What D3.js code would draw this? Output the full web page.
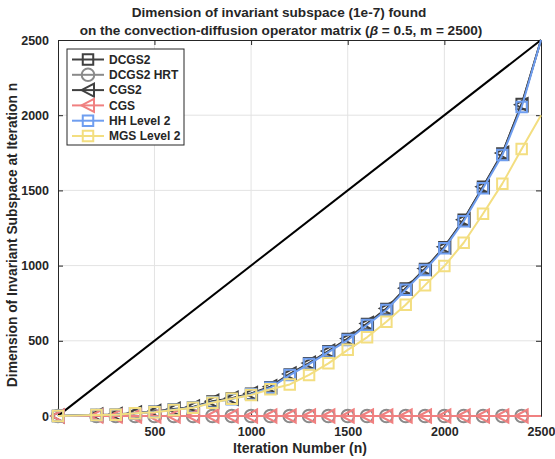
<!DOCTYPE html>
<html>
<head>
<meta charset="utf-8">
<script src="https://cdn.jsdelivr.net/npm/d3@7/dist/d3.min.js"></script>
<style>
  body { margin: 0; background: #fff; }
  text { font-family: "Liberation Sans", Arial, Helvetica, sans-serif; font-weight: bold; fill: #262626; }
</style>
</head>
<body>
<svg id="chart" width="555" height="459"></svg>
<script>
// Iteration counts at which the subspace dimension was sampled
const iterations = [1, 200, 300, 400, 500, 600, 700, 800, 900, 1000, 1100, 1200, 1300,
  1400, 1500, 1600, 1700, 1800, 1900, 2000, 2100, 2200, 2300, 2400, 2500];

// Dimension of the invariant subspace found at each sampled iteration
const dcgs2    = [0, 6, 9, 18, 28, 44, 58, 96, 116, 148, 192, 276, 350, 430, 512, 612, 712, 848, 978, 1122, 1305, 1525, 1745, 2075, 2500];
const dcgs2Hrt = [0, 0, 0, 0, 0, 0, 0, 0, 0, 0, 0, 0, 0, 0, 0, 0, 0, 0, 0, 0, 0, 0, 0, 0, 0];
const cgs2     = [0, 7, 10, 20, 30, 46, 60, 98, 118, 150, 195, 280, 352, 432, 515, 615, 715, 850, 980, 1125, 1305, 1525, 1748, 2070, 2500];
const cgs      = [0, 0, 0, 0, 0, 0, 0, 0, 0, 0, 0, 0, 0, 0, 0, 0, 0, 0, 0, 0, 0, 0, 0, 0, 0];
const hhLevel2 = [0, 6, 9, 18, 27, 42, 56, 92, 112, 145, 188, 272, 345, 425, 505, 605, 705, 840, 970, 1115, 1295, 1515, 1735, 2055, 2500];
const mgsLevel2 = [0, 7, 8, 18, 25, 40, 55, 88, 115, 140, 178, 210, 273, 350, 440, 523, 627, 740, 870, 997, 1152, 1345, 1545, 1775, 2000];

// Upper bound: dimension equal to the iteration number
const boundIterations = [1, 2500];
const boundDims = [1, 2500];

const seriesNames = ["DCGS2", "DCGS2 HRT", "CGS2", "CGS", "HH Level 2", "MGS Level 2"];
const xTicks = [500, 1000, 1500, 2000, 2500];
const yTicks = [0, 500, 1000, 1500, 2000, 2500];

const series = [
  { name: seriesNames[0], values: dcgs2,     color: "#404040", marker: "square" },
  { name: seriesNames[1], values: dcgs2Hrt,  color: "#8a8a8a", marker: "circle" },
  { name: seriesNames[2], values: cgs2,      color: "#404040", marker: "triangle" },
  { name: seriesNames[3], values: cgs,       color: "#f08080", marker: "triangle" },
  { name: seriesNames[4], values: hhLevel2,  color: "#6f9ef0", marker: "square" },
  { name: seriesNames[5], values: mgsLevel2, color: "#f3de80", marker: "square" }
];

const plot = { left: 58, right: 541, top: 40, bottom: 416 };
const svg = d3.select("#chart");
const axisColor = "#262626";
const fmt = d3.format("d");

const x = d3.scaleLinear().domain([1, 2500]).range([plot.left, plot.right]);
const y = d3.scaleLinear().domain([0, 2500]).range([plot.bottom, plot.top]);

// grid
const grid = svg.append("g");
grid.selectAll("line.gx").data(xTicks.filter(t => t < 2500)).join("line")
  .attr("x1", d => x(d)).attr("x2", d => x(d))
  .attr("y1", plot.top).attr("y2", plot.bottom)
  .attr("stroke", "#e3e3e3").attr("stroke-width", 1);
grid.selectAll("line.gy").data(yTicks.filter(t => t > 0 && t < 2500)).join("line")
  .attr("y1", d => y(d)).attr("y2", d => y(d))
  .attr("x1", plot.left).attr("x2", plot.right)
  .attr("stroke", "#e3e3e3").attr("stroke-width", 1);

// axes with inward ticks on all four sides
function styleAxis(g) {
  g.selectAll("path").attr("stroke", axisColor);
  g.selectAll("line").attr("stroke", axisColor);
  g.selectAll("text").attr("fill", axisColor).style("font-size", "12.5px").style("font-weight", "bold");
}
svg.append("g").attr("transform", `translate(0,${plot.bottom})`)
  .call(d3.axisBottom(x).tickValues(xTicks).tickFormat(fmt).tickSizeInner(-5).tickSizeOuter(0).tickPadding(11))
  .call(styleAxis);
svg.append("g").attr("transform", `translate(0,${plot.top})`)
  .call(d3.axisTop(x).tickValues(xTicks).tickSizeInner(-5).tickSizeOuter(0).tickFormat(""))
  .call(styleAxis);
svg.append("g").attr("transform", `translate(${plot.left},0)`)
  .call(d3.axisLeft(y).tickValues(yTicks).tickFormat(fmt).tickSizeInner(-5).tickSizeOuter(0).tickPadding(9))
  .call(styleAxis);
svg.append("g").attr("transform", `translate(${plot.right},0)`)
  .call(d3.axisRight(y).tickValues(yTicks).tickSizeInner(-5).tickSizeOuter(0).tickFormat(""))
  .call(styleAxis);

// upper bound line
const boundLine = d3.line().x(d => x(d[0])).y(d => y(d[1]));
svg.append("path")
  .attr("d", boundLine(boundIterations.map((n, i) => [n, boundDims[i]])))
  .attr("fill", "none").attr("stroke", "#000").attr("stroke-width", 2);

// marker shapes
const squareSym = d3.symbol().type(d3.symbolSquare).size(110);
const circleSym = d3.symbol().type(d3.symbolCircle).size(125);
function drawMarker(g, kind, color) {
  if (kind === "square") {
    g.append("path").attr("d", squareSym()).attr("fill", "none").attr("stroke", color).attr("stroke-width", 2);
  } else if (kind === "circle") {
    g.append("path").attr("d", circleSym()).attr("fill", "none").attr("stroke", color).attr("stroke-width", 2);
  } else {
    g.append("path").attr("d", "M-6.5,0L6,-6.5L6,6.5Z").attr("fill", "none").attr("stroke", color).attr("stroke-width", 2);
  }
}

const line = d3.line().x(d => x(d[0])).y(d => y(d[1]));
series.forEach(s => {
  const pts = iterations.map((n, i) => [n, s.values[i]]);
  const g = svg.append("g");
  g.append("path").attr("d", line(pts))
    .attr("fill", "none").attr("stroke", s.color).attr("stroke-width", 2).attr("stroke-linejoin", "round");
  pts.slice(0, -1).forEach(p => {
    const m = g.append("g").attr("transform", `translate(${x(p[0])},${y(p[1])})`);
    drawMarker(m, s.marker, s.color);
  });
});

// legend
const legend = svg.append("g");
legend.append("rect").attr("x", 67).attr("y", 49).attr("width", 117).attr("height", 96)
  .attr("fill", "#fff").attr("stroke", axisColor).attr("stroke-width", 1);
series.forEach((s, i) => {
  const ly = 59.5 + i * 15.3;
  legend.append("line").attr("x1", 72).attr("x2", 104).attr("y1", ly).attr("y2", ly)
    .attr("stroke", s.color).attr("stroke-width", 2);
  const m = legend.append("g").attr("transform", `translate(88,${ly})`);
  drawMarker(m, s.marker, s.color);
  legend.append("text").attr("x", 109).attr("y", ly + 4.3).style("font-size", "12px").text(s.name);
});

// title and axis labels
const title = svg.append("text").attr("text-anchor", "middle").style("font-size", "13.6px");
title.append("tspan").attr("x", 279).attr("y", 17).text("Dimension of invariant subspace (1e-7) found");
const t2 = title.append("tspan").attr("x", 281).attr("y", 35);
t2.append("tspan").text("on the convection-diffusion operator matrix (");
t2.append("tspan").style("font-style", "italic").text("β");
t2.append("tspan").text(" = 0.5, m = 2500)");

svg.append("text").attr("text-anchor", "middle").attr("x", 300).attr("y", 453)
  .style("font-size", "14px").text("Iteration Number (n)");
svg.append("text").attr("text-anchor", "middle")
  .attr("transform", "translate(17,235) rotate(-90)")
  .style("font-size", "13.8px").text("Dimension of Invariant Subspace at Iteration n");
</script>
</body>
</html>
